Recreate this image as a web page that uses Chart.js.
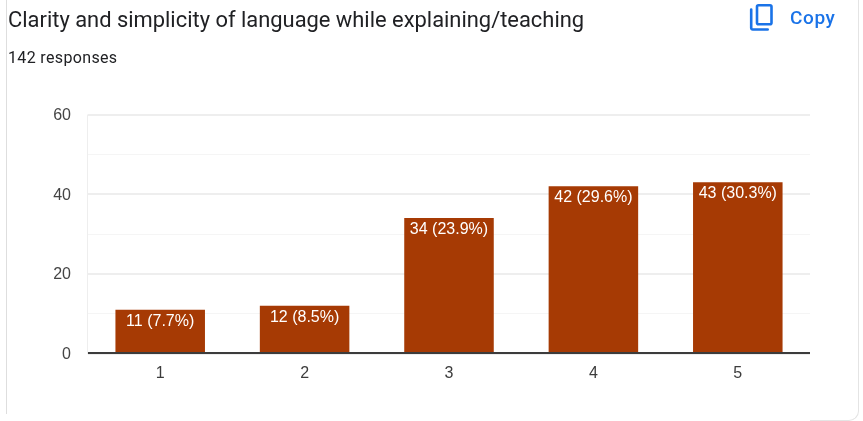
<!DOCTYPE html>
<html><head><meta charset="utf-8">
<script src="https://cdn.jsdelivr.net/npm/chart.js@4"></script>
<style>
html,body{margin:0;padding:0;background:#fff;width:863px;height:421px;overflow:hidden}
#wrap{position:absolute;left:0;top:0;width:863px;height:421px}
#leftLine{position:absolute;left:6px;top:0;width:1px;height:414px;background:#dedede}
#cornerLine{position:absolute;left:810px;top:-20px;width:48px;height:440px;border-right:1px solid #e4e4e4;border-bottom:1px solid #e4e4e4;border-radius:0 0 10px 0}
canvas{position:absolute;left:0;top:0}
.t{position:absolute;white-space:nowrap;font-family:Roboto,sans-serif}
#title{left:8px;top:7px;font-size:21.9px;color:#202124;line-height:26px}
#sub{left:8px;top:48px;font-size:16px;color:#202124;line-height:20px;letter-spacing:.35px}
#copy{left:790px;top:7px;font-size:19px;font-weight:500;color:#1a73e8;line-height:22px;letter-spacing:.6px}
#icon{position:absolute;left:748px;top:2px}
</style></head><body>
<div id="wrap">
<div id="leftLine"></div><div id="cornerLine"></div>
<canvas id="c" width="863" height="421"></canvas>
<div class="t" id="title">Clarity and simplicity of language while explaining/teaching</div>
<div class="t" id="sub">142 responses</div>
<svg id="icon" width="30" height="32" viewBox="0 0 30 32" fill="none" stroke="#1a73e8" stroke-width="2.6" stroke-linejoin="round" stroke-linecap="round"><path d="M3.2 7.5v18.5a1.5 1.5 0 0 0 1.5 1.5h15"/><rect x="9" y="3.2" width="14.5" height="19" rx="1.5"/></svg>
<div class="t" id="copy">Copy</div>
</div>
<script>
const categories = ["1","2","3","4","5"];
const counts = [11,12,34,42,43];
const percentLabels = ["7.7%","8.5%","23.9%","29.6%","30.3%"];
const yTickLabels = [0,20,40,60];
const barColor = "#a63a04";

const valueLabels = {
  id:"valueLabels",
  afterDatasetsDraw(chart){
    const ctx = chart.ctx;
    const meta = chart.getDatasetMeta(0);
    ctx.save();
    ctx.fillStyle="#ffffff";
    ctx.font='16px "Liberation Sans", Arial, sans-serif';
    ctx.textAlign="center";
    ctx.textBaseline="middle";
    meta.data.forEach((bar,i)=>{
      ctx.fillText(counts[i]+" ("+percentLabels[i]+")", bar.x, bar.y+11.5);
    });
    ctx.restore();
  }
};
const zeroLine = {
  id:"zeroLine",
  afterDatasetsDraw(chart){
    const {ctx,chartArea:a,scales:{y}} = chart;
    ctx.save();
    ctx.strokeStyle="#3c3c3c";
    ctx.lineWidth=2;
    ctx.beginPath();
    ctx.moveTo(a.left,y.getPixelForValue(0)-0.5);
    ctx.lineTo(a.right,y.getPixelForValue(0)-0.5);
    ctx.stroke();
    ctx.restore();
  }
};
const yLabels = {
  id:"yLabels",
  afterDraw(chart){
    const {ctx,scales:{y}} = chart;
    ctx.save();
    ctx.fillStyle="#444444";
    ctx.font='16px "Liberation Sans", Arial, sans-serif';
    ctx.textAlign="right";
    ctx.textBaseline="middle";
    y.ticks.forEach(t=>{
      if(t.label) ctx.fillText(t.label, 71, y.getPixelForValue(t.value)+1);
    });
    ctx.restore();
  }
};
new Chart(document.getElementById("c"),{
  type:"bar",
  data:{labels:categories,datasets:[{data:counts,backgroundColor:barColor,barPercentage:0.62,categoryPercentage:1}]},
  options:{
    responsive:false,animation:false,
    layout:{padding:{left:0,right:53,top:114.5,bottom:0}},
    plugins:{legend:{display:false},tooltip:{enabled:false}},
    scales:{
      x:{
        afterFit(s){s.height=67.5;},
        grid:{offset:true,drawTicks:false,lineWidth:1,color:c=>(c.index===0||c.index===categories.length)?"#eeeeee":"rgba(0,0,0,0)"},
        border:{display:false},
        ticks:{color:"#3c3c3c",padding:10,font:{family:'"Liberation Sans"',size:16}}
      },
      y:{
        min:0,max:60,afterFit(s){s.width=88;},
        grid:{drawTicks:false,lineWidth:c=>c.tick.value%20===0?2:1,color:c=>c.tick.value%20===0?"#eeeeee":"#f5f5f5"},
        border:{display:false},
        ticks:{display:false,stepSize:10,callback:v=>yTickLabels.includes(v)?String(v):""}
      }
    }
  },
  plugins:[valueLabels,zeroLine,yLabels]
});
</script>
</body></html>
